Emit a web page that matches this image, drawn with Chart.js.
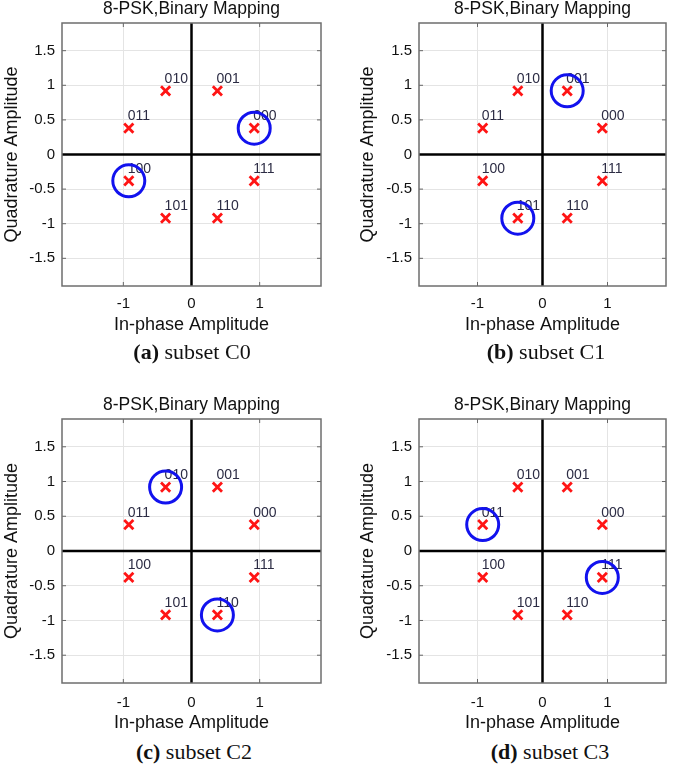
<!DOCTYPE html>
<html>
<head>
<meta charset="utf-8">
<title>8-PSK subsets</title>
<script src="https://cdn.jsdelivr.net/npm/chart.js"></script>
<style>
  body { margin: 0; background: #fff; }
  #page { position: relative; width: 685px; height: 768px; overflow: hidden; }
  .panel { position: absolute; }
  .caption {
    position: absolute;
    font-family: "Liberation Serif", "Times New Roman", serif;
    font-size: 22px;
    line-height: 1;
    color: #111;
    white-space: nowrap;
    transform: translate(-50%, -50%);
  }
</style>
</head>
<body>
<div id="page"></div>
<script>
// constellation points
const symbolLabels = ["000", "001", "010", "011", "100", "101", "110", "111"];
const inPhase = [0.92, 0.38, -0.38, -0.92, -0.92, -0.38, 0.38, 0.92];
const quadrature = [0.38, 0.92, 0.92, 0.38, -0.38, -0.92, -0.92, -0.38];

const xTicks = [-1, 0, 1];
const yTicks = [-1.5, -1, -0.5, 0, 0.5, 1, 1.5];
const axisLimit = 1.9;

const subsetLetters = ["a", "b", "c", "d"];
const subsetNames = ["C0", "C1", "C2", "C3"];
const subsetMembers = [
  ["000", "100"],
  ["001", "101"],
  ["010", "110"],
  ["011", "111"],
];

// page layout of the four panels
const panels = [
  { left: 0, top: 0, width: 340, height: 340, yAxisWidth: 62, plotTop: 23, plotBottom: 286, padRight: 14,
    tickPad: 9, yTitlePad: 3, xTitlePad: 6, captionX: 192, captionY: 352 },
  { left: 340, top: 0, width: 345, height: 340, yAxisWidth: 79, plotTop: 23, plotBottom: 286, padRight: 1,
    tickPad: 9, yTitlePad: 19, xTitlePad: 6, captionX: 546, captionY: 352 },
  { left: 0, top: 390, width: 340, height: 345, yAxisWidth: 62, plotTop: 29, plotBottom: 293, padRight: 14,
    tickPad: 11, yTitlePad: 3, xTitlePad: 3, captionX: 194, captionY: 752 },
  { left: 340, top: 390, width: 345, height: 345, yAxisWidth: 79, plotTop: 29, plotBottom: 293, padRight: 1,
    tickPad: 11, yTitlePad: 19, xTitlePad: 3, captionX: 550, captionY: 752 },
];

const sansFont = "'Liberation Sans', Arial, sans-serif";
const chartTitle = "8-PSK,Binary Mapping";

function strokeLine(ctx, x1, y1, x2, y2) {
  ctx.beginPath();
  ctx.moveTo(x1, y1);
  ctx.lineTo(x2, y2);
  ctx.stroke();
}

const frameAndLabels = {
  id: "frameAndLabels",
  beforeDatasetsDraw(chart) {
    const { ctx, chartArea: area, scales } = chart;
    const xs = scales.x;
    const ys = scales.y;
    ctx.save();

    // small inward ticks, matlab style
    ctx.strokeStyle = "#666";
    ctx.lineWidth = 1;
    xTicks.forEach((v) => {
      const px = xs.getPixelForValue(v);
      strokeLine(ctx, px, area.top, px, area.top + 4);
      strokeLine(ctx, px, area.bottom, px, area.bottom - 4);
    });
    yTicks.forEach((v) => {
      const py = ys.getPixelForValue(v);
      strokeLine(ctx, area.left, py, area.left + 4, py);
      strokeLine(ctx, area.right, py, area.right - 4, py);
    });

    // the two zero axes
    ctx.strokeStyle = "#000";
    ctx.lineWidth = 2.5;
    const x0 = xs.getPixelForValue(0);
    const y0 = ys.getPixelForValue(0);
    strokeLine(ctx, x0, area.top, x0, area.bottom);
    strokeLine(ctx, area.left, y0, area.right, y0);

    ctx.strokeStyle = "#6e6e6e";
    ctx.lineWidth = 1.5;
    ctx.strokeRect(area.left, area.top, area.width, area.height);

    // title centred over the plot box
    ctx.font = "17.5px " + sansFont;
    ctx.fillStyle = "#111";
    ctx.textAlign = "center";
    ctx.textBaseline = "middle";
    ctx.fillText(chartTitle, (area.left + area.right) / 2, area.top - 13.5);
    ctx.restore();
  },
  afterDatasetDraw(chart, args) {
    // labels go right after the red markers, before the blue rings
    if (args.index !== 1) return;
    const { ctx } = chart;
    ctx.save();
    ctx.font = "14px " + sansFont;
    ctx.fillStyle = "#2c2c44";
    ctx.textAlign = "left";
    ctx.textBaseline = "alphabetic";
    args.meta.data.forEach((pt, i) => {
      ctx.fillText(symbolLabels[i], pt.x - 1, pt.y - 8);
    });
    ctx.restore();
  },
};

function makePanel(k) {
  const p = panels[k];
  const holder = document.createElement("div");
  holder.className = "panel";
  holder.style.left = p.left + "px";
  holder.style.top = p.top + "px";
  holder.style.width = p.width + "px";
  holder.style.height = p.height + "px";
  const canvas = document.createElement("canvas");
  canvas.width = p.width;
  canvas.height = p.height;
  holder.appendChild(canvas);
  document.getElementById("page").appendChild(holder);

  const caption = document.createElement("div");
  caption.className = "caption";
  caption.style.left = p.captionX + "px";
  caption.style.top = p.captionY + "px";
  caption.innerHTML = "<b>(" + subsetLetters[k] + ")</b> subset " + subsetNames[k];
  document.getElementById("page").appendChild(caption);

  const allPoints = symbolLabels.map((s, i) => ({ x: inPhase[i], y: quadrature[i] }));
  const ringPoints = subsetMembers[k].map((s) => {
    const i = symbolLabels.indexOf(s);
    return { x: inPhase[i], y: quadrature[i] };
  });

  new Chart(canvas, {
    type: "scatter",
    data: {
      datasets: [
        {
          label: "subset " + subsetNames[k],
          data: ringPoints,
          pointStyle: "circle",
          pointRadius: 16,
          pointBorderWidth: 3,
          pointBorderColor: "#1212ee",
          pointBackgroundColor: "rgba(0,0,0,0)",
        },
        {
          label: "8-PSK",
          data: allPoints,
          pointStyle: "crossRot",
          pointRadius: 6.5,
          pointBorderWidth: 2.8,
          pointBorderColor: "#ff1414",
          pointBackgroundColor: "#ff1414",
        },
      ],
    },
    options: {
      responsive: false,
      animation: false,
      events: [],
      layout: { padding: { left: 0, right: p.padRight, top: p.plotTop, bottom: 0 } },
      plugins: {
        legend: { display: false },
        tooltip: { enabled: false },
        title: { display: false },
      },
      scales: {
        x: {
          type: "linear",
          min: -axisLimit,
          max: axisLimit,
          afterBuildTicks: (scale) => {
            scale.ticks = xTicks.map((v) => ({ value: v }));
          },
          afterFit: (scale) => {
            scale.height = p.height - p.plotBottom;
          },
          grid: { color: "#e4e4e4", lineWidth: 1, drawTicks: false },
          border: { display: false },
          ticks: {
            padding: p.tickPad,
            color: "#111",
            font: { family: sansFont, size: 15 },
            callback: (v) => String(v),
          },
          title: {
            display: true,
            text: "In-phase Amplitude",
            color: "#111",
            font: { family: sansFont, size: 18, lineHeight: 1 },
            padding: { top: 0, bottom: p.xTitlePad },
          },
        },
        y: {
          type: "linear",
          min: -axisLimit,
          max: axisLimit,
          afterBuildTicks: (scale) => {
            scale.ticks = yTicks.map((v) => ({ value: v }));
          },
          afterFit: (scale) => {
            scale.width = p.yAxisWidth;
          },
          grid: { color: "#e4e4e4", lineWidth: 1, drawTicks: false },
          border: { display: false },
          ticks: {
            padding: 7,
            color: "#111",
            font: { family: sansFont, size: 15 },
            callback: (v) => String(v),
          },
          title: {
            display: true,
            text: "Quadrature Amplitude",
            color: "#111",
            font: { family: sansFont, size: 18, lineHeight: 1 },
            padding: { top: p.yTitlePad, bottom: 0 },
          },
        },
      },
    },
    plugins: [frameAndLabels],
  });
}

for (let k = 0; k < panels.length; k++) {
  makePanel(k);
}
</script>
</body>
</html>
